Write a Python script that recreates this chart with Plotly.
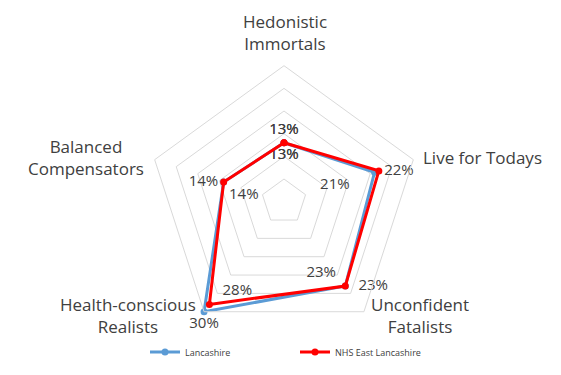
import plotly.graph_objects as go

# Segment shares by area
categories = ["Hedonistic Immortals", "Live for Todays", "Unconfident Fatalists",
              "Health-conscious Realists", "Balanced Compensators"]
category_labels = ["Hedonistic<br>Immortals", "Live for Todays", "Unconfident<br>Fatalists",
                   "Health-conscious<br>Realists", "Balanced<br>Compensators"]
lancashire = [13, 21, 23, 30, 14]
nhs_east_lancashire = [13, 22, 23, 28, 14]

BLUE = "#5b9bd5"
RED = "#ff0000"
TEXT = "#404040"
GRID = "#d9d9d9"
FONT = "Open Sans"

NB = "&nbsp;"


def closed(seq):
    return list(seq) + [seq[0]]


lan_text = [f"{v}%" for v in lancashire]
lan_text[1] = lan_text[1] + NB * 5
lan_text[2] = lan_text[2] + NB * 1
nhs_text = [f"{v}%" for v in nhs_east_lancashire]
nhs_text[2] = NB * 2 + nhs_text[2]
nhs_text[3] = NB * 2 + nhs_text[3]

fig = go.Figure()
fig.add_trace(go.Scatterpolar(
    r=closed(lancashire), theta=closed(categories), name="Lancashire",
    mode="lines+markers+text",
    line=dict(color=BLUE, width=3), marker=dict(size=7, color=BLUE),
    text=closed(lan_text),
    textposition=closed(["bottom center", "bottom left", "top left",
                         "bottom center", "bottom right"]),
    textfont=dict(family=FONT, size=15, color=TEXT),
    cliponaxis=False,
))
fig.add_trace(go.Scatterpolar(
    r=closed(nhs_east_lancashire), theta=closed(categories), name="NHS East Lancashire",
    mode="lines+markers+text",
    line=dict(color=RED, width=3), marker=dict(size=7, color=RED),
    text=closed(nhs_text),
    textposition=closed(["top center", "middle right", "middle right",
                         "top right", "middle left"]),
    textfont=dict(family=FONT, size=15, color=TEXT),
    cliponaxis=False,
))

# Axis labels placed around the pentagon
label_pos = [(285, 32, "center"), (482, 157, "center"), (420, 315, "center"),
             (128, 315, "center"), (86, 157, "center")]
W, H = 561, 375
annotations = []
for lab, (px, py, al) in zip(category_labels, label_pos):
    annotations.append(dict(
        x=px / W, y=1 - py / H, xref="paper", yref="paper",
        text=lab, showarrow=False, align=al, xanchor="center", yanchor="middle",
        font=dict(family=FONT, size=17, color=TEXT),
    ))

fig.update_layout(
    width=W, height=H,
    margin=dict(l=0, r=0, t=0, b=0),
    paper_bgcolor="white", plot_bgcolor="white",
    font=dict(family=FONT, color=TEXT),
    annotations=annotations,
    polar=dict(
        domain=dict(x=[148 / W, 420 / W], y=[1 - 337.7 / H, 1 - 65.7 / H]),
        gridshape="linear",
        bgcolor="white",
        radialaxis=dict(range=[0, 30], dtick=5, showticklabels=False, ticks="",
                        showline=False, gridcolor=GRID, gridwidth=1),
        angularaxis=dict(rotation=90, direction="clockwise", showticklabels=False,
                         ticks="", showgrid=False, showline=True,
                         linecolor=GRID, linewidth=1),
    ),
    showlegend=True,
    legend=dict(orientation="h", x=145 / W, xanchor="left", y=1 - 352 / H,
                yanchor="middle", font=dict(family=FONT, size=9, color=TEXT),
                entrywidth=105, entrywidthmode="pixels", bgcolor="rgba(0,0,0,0)"),
)

fig.write_html("out.html")
